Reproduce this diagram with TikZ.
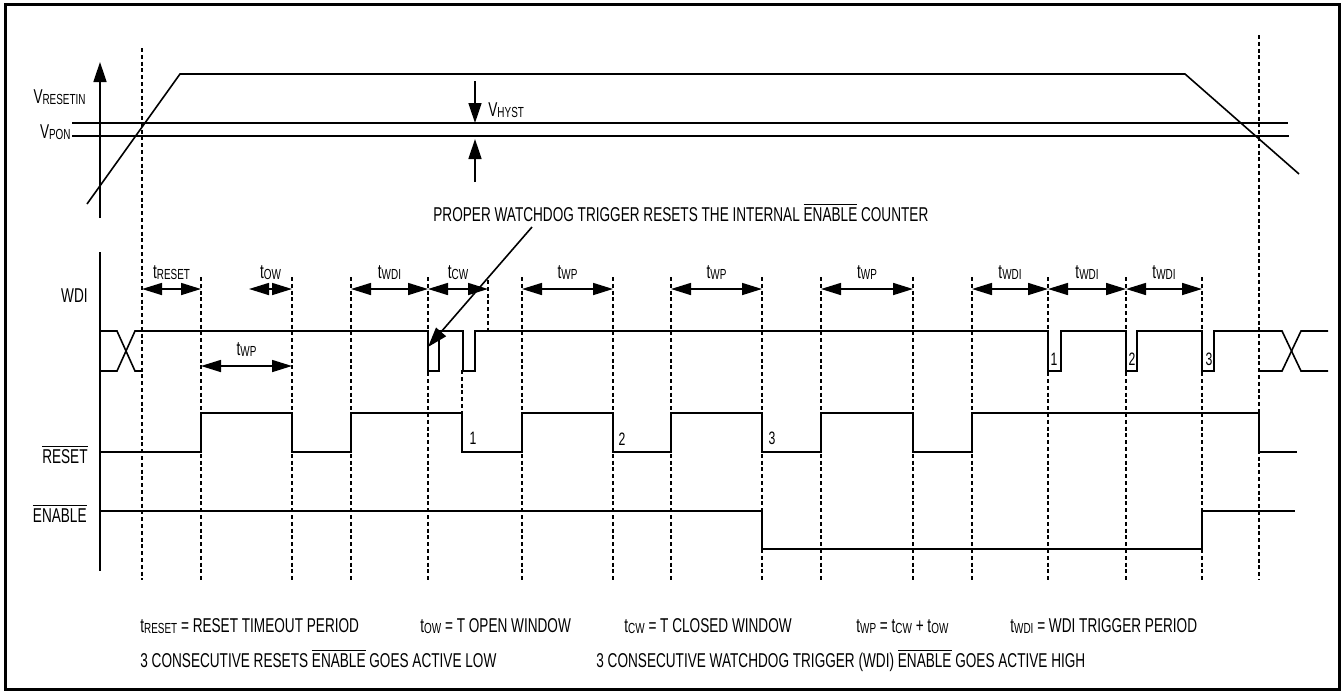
\documentclass[tikz,border=0pt]{standalone}
\usepackage{fontspec}
\setmainfont{Liberation Sans}[FakeStretch=0.68]
\usepackage{tikz}
\usetikzlibrary{arrows.meta}
\newcommand{\sbs}[1]{\raisebox{-0.6pt}{\fontsize{7.3}{8}\selectfont #1}}
\newcommand{\ovl}[1]{$\overline{\mbox{#1}}$}

\begin{document}
\begin{tikzpicture}[x=0.5pt, y=-0.5pt,
  sig/.style={line width=0.8pt},
  tick/.style={line width=0.6pt, dash pattern=on 2pt off 1.4pt},
  dim/.style={sig, {Triangle[length=10pt,width=6pt]}-{Triangle[length=10pt,width=6pt]}},
  ptr/.style={sig, -{Triangle[length=10pt,width=6.5pt]}},
  lbl/.style={font=\fontsize{10}{12}\selectfont, inner sep=0pt},
  num/.style={font=\fontsize{9}{11}\selectfont, inner sep=0pt, anchor=base}]
\useasboundingbox (0,0) rectangle (1343,692);
\draw[line width=1.5pt] (5,4) rectangle (1339,689);

% input voltage
\draw[ptr] (100,218) -- (100,62);
\draw[sig] (72,123) -- (1288,123);
\draw[sig] (72,136) -- (1289,136);
\draw[sig] (87,204) -- (180,74) -- (1185,74) -- (1299,174);
\draw[ptr] (475,81) -- (475,123);
\draw[ptr] (475,182) -- (475,139);
\node[lbl, anchor=base east] (vin) at (86,103) {V\sbs{RESETIN}};
\node[lbl, anchor=base east] (vpon) at (71,138) {V\sbs{PON}};
\node[lbl, anchor=base west] (vhyst) at (488,116) {V\sbs{HYST}};

% time marks
\draw[tick] (142,48) -- (142,580);
\draw[tick] (1259,35) -- (1259,580);
\foreach \x in {201,292,351,428,522,613,671,762,821,913,972,1048,1126,1202}
  \draw[tick] (\x,277) -- (\x,580);
\draw[tick] (462,370) -- (462,412);
\draw[tick] (488,280) -- (488,330);

% signals
\draw[sig] (100,252) -- (100,571);
\draw[sig] (100,331) -- (117,331) -- (135,371) -- (142,371);
\draw[sig] (100,371) -- (117,371) -- (135,331) -- (428,331) -- (428,371) -- (439,371) -- (439,331)
  -- (463,331) -- (463,371) -- (475,371) -- (475,331) -- (1048,331) -- (1048,371) -- (1061,371)
  -- (1061,331) -- (1126,331) -- (1126,371) -- (1137,371) -- (1137,331) -- (1202,331)
  -- (1202,371) -- (1214,371) -- (1214,331) -- (1282,331) -- (1301,371) -- (1328,371);
\draw[sig] (1259,371) -- (1282,371) -- (1301,331) -- (1328,331);
\draw[sig] (100,452) -- (201,452) -- (201,413) -- (292,413) -- (292,452) -- (351,452) -- (351,413)
  -- (462,413) -- (462,452) -- (522,452) -- (522,413) -- (613,413) -- (613,452) -- (671,452)
  -- (671,413) -- (762,413) -- (762,452) -- (821,452) -- (821,413) -- (913,413) -- (913,452)
  -- (972,452) -- (972,413) -- (1259,413) -- (1259,452) -- (1297,452);
\draw[sig] (100,511) -- (762,511) -- (762,549) -- (1202,549) -- (1202,511) -- (1295,511);
\node[lbl, anchor=base east] (wdi) at (88,302) {WDI};
\node[lbl, anchor=base east] (rst) at (88,463) {\ovl{RESET}};
\node[lbl, anchor=base east] (en) at (87,522) {\ovl{ENABLE}};

% periods
\foreach \nm/\x in {1/142,2/201,3/292,4/351,5/428,6/488,7/522,8/613,9/671,10/762,
                    11/821,12/913,13/972,14/1048,15/1126,16/1202}
  \coordinate (m\nm) at (\x,289);
\coordinate (owl) at (249,289);
\coordinate (wpa) at (201,366);
\coordinate (wpb) at (292,366);
\foreach \a/\b/\t in {m1/m2/RESET, owl/m3/OW, m4/m5/WDI, m5/m6/CW, m7/m8/WP, m9/m10/WP,
                      m11/m12/WP, m13/m14/WDI, m14/m15/WDI, m15/m16/WDI, wpa/wpb/WP}
  \draw[dim] (\a) -- node[lbl, anchor=base, yshift=5.5pt] {t\sbs{\t}} (\b);

\node[num] (p1) at (473,444) {1};
\node[num] (p2) at (622,445) {2};
\node[num] (p3) at (772,444) {3};
\node[num] (q1) at (1054,365) {1};
\node[num] (q2) at (1132,365) {2};
\node[num] (q3) at (1209,365) {3};

% callout
\node[lbl, anchor=base west] (note) at (433,221) {PROPER WATCHDOG TRIGGER RESETS THE INTERNAL \ovl{ENABLE} COUNTER};
\coordinate (calltail) at (532,227);
\coordinate (pulse) at (428,347);
\draw[ptr] (calltail) -- (pulse);

% legend
\node[lbl, anchor=base west] (lg1) at (140,632) {t\sbs{RESET} = RESET TIMEOUT PERIOD};
\node[lbl, anchor=base west] (lg2) at (420,632) {t\sbs{OW} = T OPEN WINDOW};
\node[lbl, anchor=base west] (lg3) at (624,632) {t\sbs{CW} = T CLOSED WINDOW};
\node[lbl, anchor=base west] (lg4) at (856,632) {t\sbs{WP} = t\sbs{CW} + t\sbs{OW}};
\node[lbl, anchor=base west] (lg5) at (1010,632) {t\sbs{WDI} = WDI TRIGGER PERIOD};
\node[lbl, anchor=base west] (lg6) at (140,667) {3 CONSECUTIVE RESETS \ovl{ENABLE} GOES ACTIVE LOW};
\node[lbl, anchor=base west] (lg7) at (596,667) {3 CONSECUTIVE WATCHDOG TRIGGER (WDI) \ovl{ENABLE} GOES ACTIVE HIGH};
\end{tikzpicture}
\end{document}
